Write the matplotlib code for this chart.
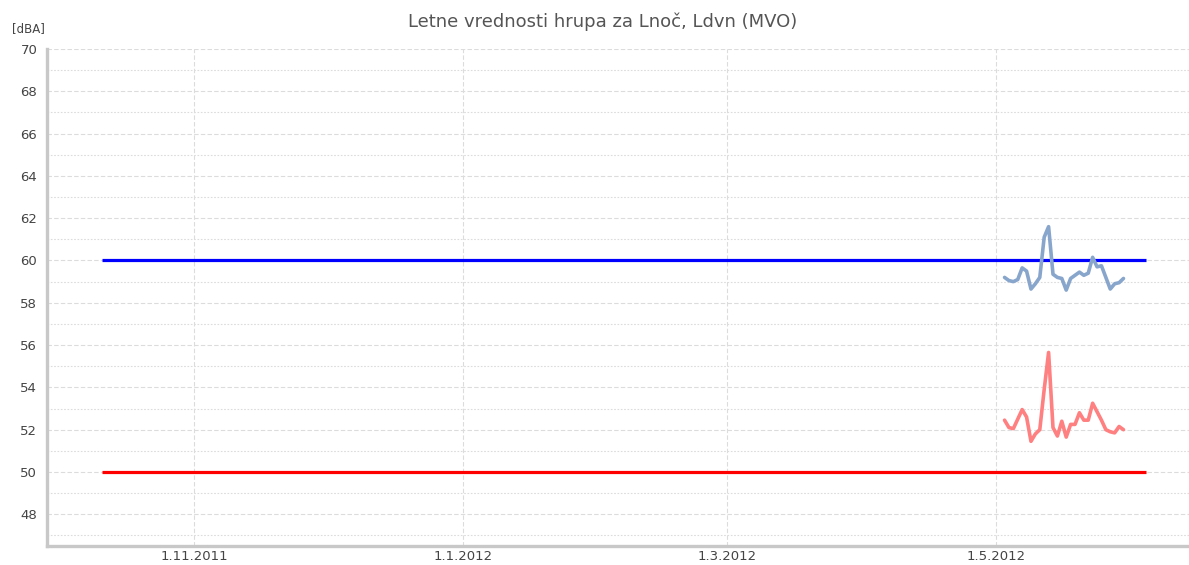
import datetime as dt
import matplotlib
matplotlib.use("Agg")
import matplotlib.pyplot as plt
import matplotlib.dates as mdates
from matplotlib.ticker import MultipleLocator

# ---- data ----
title = "Letne vrednosti hrupa za Lnoč, Ldvn (MVO)"
y_unit = "[dBA]"
limit_start = dt.date(2011, 10, 11)
limit_end = dt.date(2012, 6, 4)
limit_day = 60   # blue limit (Ldvn)
limit_night = 50  # red limit (Lnoč)
series_start = dt.date(2012, 5, 3)
ldvn = [59.2, 59.05, 59.0, 59.1, 59.65, 59.5, 58.65, 58.9, 59.2, 61.1,
        61.6, 59.35, 59.2, 59.15, 58.6, 59.15, 59.3, 59.45, 59.3, 59.4,
        60.15, 59.7, 59.75, 59.2, 58.65, 58.9, 58.95, 59.15]
lnoc = [52.45, 52.1, 52.05, 52.5, 52.95, 52.6, 51.45, 51.8, 52.0, 53.9,
        55.65, 52.1, 51.7, 52.4, 51.65, 52.25, 52.25, 52.8, 52.45, 52.45,
        53.25, 52.85, 52.45, 52.0, 51.9, 51.85, 52.15, 52.0]
x_ticks = [dt.date(2011, 11, 1), dt.date(2012, 1, 1), dt.date(2012, 3, 1), dt.date(2012, 5, 1)]
x_tick_labels = ["1.11.2011", "1.1.2012", "1.3.2012", "1.5.2012"]

dates = [series_start + dt.timedelta(days=i) for i in range(len(ldvn))]

W, H = 1189, 565
fig = plt.figure(figsize=(W / 100, H / 100), dpi=100)
ax = fig.add_axes([47 / W, (H - 546) / H, 1 - 47 / W, (546 - 49) / H])

ax.set_xlim(dt.datetime(2011, 9, 28, 15), dt.datetime(2012, 6, 13, 21))
ax.set_ylim(46.5, 70)

# grid
ax.yaxis.set_major_locator(MultipleLocator(2))
ax.yaxis.set_minor_locator(MultipleLocator(1))
ax.grid(which="major", axis="y", color="#dcdcdc", linestyle=(0, (4, 2)), linewidth=0.8)
ax.grid(which="minor", axis="y", color="#dcdcdc", linestyle=(0, (1.5, 1.5)), linewidth=0.8)
ax.set_xticks(x_ticks)
ax.set_xticklabels(x_tick_labels)
ax.grid(which="major", axis="x", color="#dcdcdc", linestyle=(0, (4, 2)), linewidth=0.8)
ax.set_axisbelow(True)

# limit lines
ax.plot([limit_start, limit_end], [limit_day, limit_day], color="#0000ff", linewidth=2.3, solid_capstyle="butt")
ax.plot([limit_start, limit_end], [limit_night, limit_night], color="#ff0000", linewidth=2.3, solid_capstyle="butt")

# series
ax.plot(dates, ldvn, color="#88a6cc", linewidth=2.6, solid_joinstyle="round", solid_capstyle="round")
ax.plot(dates, lnoc, color="#ff8080", linewidth=2.6, solid_joinstyle="round", solid_capstyle="round")

# spines
for s in ["top", "right"]:
    ax.spines[s].set_visible(False)
for s in ["left", "bottom"]:
    ax.spines[s].set_color("#c8c8c8")
    ax.spines[s].set_linewidth(2.4)

ax.tick_params(axis="both", which="both", length=0, colors="#444444", labelsize=9.5)
ax.tick_params(axis="y", pad=7)
ax.tick_params(axis="x", pad=3)

fig.text(603 / W, 1 - 22 / H, title, ha="center", va="center", fontsize=13, color="#555555")
fig.text(28 / W, 1 - 29 / H, y_unit, ha="center", va="center", fontsize=8.5, color="#444444")

fig.savefig("out.png", dpi=100)
